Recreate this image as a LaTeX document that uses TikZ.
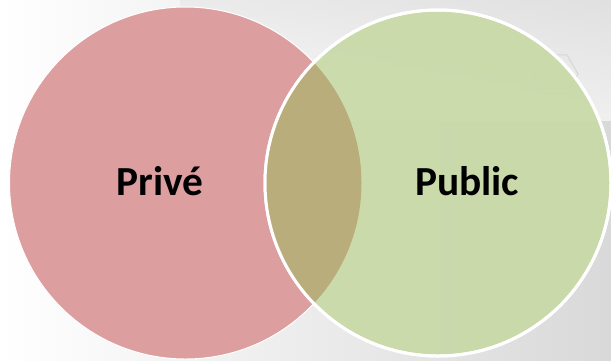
\documentclass[tikz,border=0pt]{standalone}
\usepackage{fontspec}
\setmainfont{Carlito}
\usetikzlibrary{shapes,positioning}
\definecolor{priveRed}{RGB}{220,158,159}
\definecolor{publicGreen}{RGB}{200,217,165}
\definecolor{lensOlive}{RGB}{186,173,124}
\definecolor{hexGrey}{RGB}{214,214,214}

\begin{document}
\begin{tikzpicture}[x=1bp,y=-1bp,
  setcircle/.style={circle, draw=white, inner sep=0pt},
  setlabel/.style={font=\fontsize{41.5}{50}\selectfont\bfseries, text=black},
  hexline/.style={draw=hexGrey, line width=1pt}]
\useasboundingbox (0,0) rectangle (611,360);
% background
\shade[left color=white, right color=black!15] (0,0) rectangle (611,360);
\shade[top color=black!10, bottom color=white, opacity=0.6] (180,0) rectangle (611,120);
\node (hexSmall) [hexline, regular polygon, regular polygon sides=6, minimum size=44bp, inner sep=0pt] at (556,74) {};
\node (hexBig) [hexline, regular polygon, regular polygon sides=6, minimum size=96bp, inner sep=0pt] at (577,170) {};

% the two sets
\node (prive) [setcircle, fill=priveRed, line width=1pt, minimum size=352bp] at (185.5,183) {};
\node (public) [setcircle, fill=publicGreen, line width=3pt, minimum size=346bp, fill opacity=0.9] at (438,183) {};
\begin{scope}
\clip (prive.center) circle (176);
\fill[lensOlive] (public.center) circle (173);
\end{scope}
\draw[white, line width=3pt] (public.center) circle (173);

% labels
\node (priveText) [setlabel] at (160,181) {Privé};
\node (publicText) [setlabel] at (467,181) {Public};
\end{tikzpicture}
\end{document}
